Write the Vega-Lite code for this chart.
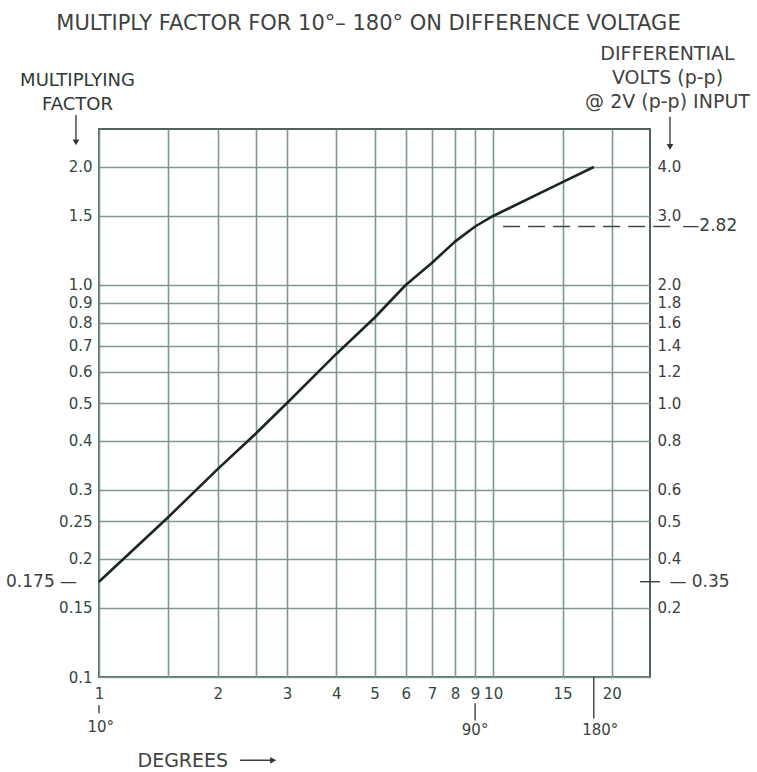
{
  "$schema": "https://vega.github.io/schema/vega-lite/v6.json",
  "width": 551,
  "height": 548,
  "autosize": {"type": "none"},
  "padding": {"left": 99, "top": 129, "right": 107, "bottom": 95},
  "background": "#ffffff",
  "config": {
    "font": "DejaVu Sans",
    "view": {"stroke": "#4f6458", "strokeWidth": 2},
    "axis": {
      "labelFont": "DejaVu Sans",
      "titleFont": "DejaVu Sans",
      "titleFontWeight": "normal",
      "domain": false,
      "ticks": false,
      "gridColor": "#7f9a8c",
      "gridWidth": 1.6,
      "gridOpacity": 1,
      "labelColor": "#34473d",
      "labelFontSize": 15,
      "labelOverlap": false,
      "labelFlush": false,
      "labelBound": false
    }
  },
  "title": {
    "text": "MULTIPLY FACTOR FOR 10°– 180° ON DIFFERENCE VOLTAGE",
    "anchor": "middle",
    "frame": "group",
    "fontSize": 21,
    "fontWeight": "normal",
    "color": "#3e4240",
    "baseline": "alphabetic",
    "offset": 14,
    "dx": -6,
    "dy": 21
  },
  "datasets": {
    "curve": [
      {"reading": 1, "factor": 0.175},
      {"reading": 1.5, "factor": 0.256},
      {"reading": 2, "factor": 0.339},
      {"reading": 2.5, "factor": 0.418},
      {"reading": 3, "factor": 0.5},
      {"reading": 4, "factor": 0.667},
      {"reading": 5, "factor": 0.825},
      {"reading": 6, "factor": 1.0},
      {"reading": 7, "factor": 1.14},
      {"reading": 8, "factor": 1.29},
      {"reading": 9, "factor": 1.41},
      {"reading": 10, "factor": 1.5},
      {"reading": 15, "factor": 1.83},
      {"reading": 18, "factor": 2.0}
    ],
    "ref_282": [
      {"reading": 10.6, "reading_end": 28.5, "factor": 1.41}
    ],
    "notes_after": [
      {"label": "—2.82", "reading": 30.2, "factor": 1.41},
      {"label": "—   0.35", "reading": 28, "factor": 0.175}
    ],
    "notes_before": [
      {"label": "0.175 —", "reading": 0.88, "factor": 0.175}
    ],
    "degree_marks": [
      {"label": "10°", "reading": 1.01, "factor": 0.0744},
      {"label": "90°", "reading": 9, "factor": 0.0731},
      {"label": "180°", "reading": 18.7, "factor": 0.0731}
    ],
    "vertical_leaders": [
      {"reading": 1, "factor": 0.0847, "factor_end": 0.0808},
      {"reading": 9, "factor": 0.0857, "factor_end": 0.0775},
      {"reading": 18, "factor": 0.1, "factor_end": 0.0784},
      {"reading": 0.874, "factor": 2.716, "factor_end": 2.3},
      {"reading": 28.1, "factor": 2.685, "factor_end": 2.23}
    ],
    "horizontal_leaders": [
      {"reading": 23.6, "reading_end": 26.5, "factor": 0.175},
      {"reading": 2.28, "reading_end": 2.8, "factor": 0.0613}
    ],
    "arrow_heads": [
      {"reading": 0.874, "factor": 2.31, "direction": "down"},
      {"reading": 28.1, "factor": 2.25, "direction": "down"},
      {"reading": 2.765, "factor": 0.0613, "direction": "right"}
    ]
  },
  "layer": [
    {
      "data": {"name": "curve"},
      "mark": {"type": "line", "stroke": "#1c2621", "strokeWidth": 2.6, "strokeJoin": "round"},
      "encoding": {
        "x": {
          "field": "reading",
          "type": "quantitative",
          "scale": {"type": "log", "domain": [1, 25], "nice": false},
          "axis": {
            "values": [1, 1.5, 2, 2.5, 3, 4, 5, 6, 7, 8, 9, 10, 15, 20],
            "labelExpr": "datum.value == 1.5 || datum.value == 2.5 ? '' : format(datum.value, 'd')",
            "labelPadding": 9,
            "grid": true,
            "title": "DEGREES",
            "titleX": 38,
            "titleY": 83,
            "titleAlign": "left",
            "titleBaseline": "middle",
            "titleFontSize": 19,
            "titleColor": "#3e4240"
          }
        },
        "y": {
          "field": "factor",
          "type": "quantitative",
          "scale": {"type": "log", "domain": [0.1, 2.5], "nice": false},
          "axis": {
            "orient": "left",
            "values": [0.1, 0.15, 0.2, 0.25, 0.3, 0.4, 0.5, 0.6, 0.7, 0.8, 0.9, 1, 1.5, 2],
            "labelExpr": "datum.value >= 1 ? format(datum.value, '.1f') : format(datum.value, '~g')",
            "labelPadding": 7,
            "grid": true,
            "title": ["MULTIPLYING", "FACTOR"],
            "titleAngle": 0,
            "titleX": -22,
            "titleY": -44,
            "titleAlign": "center",
            "titleBaseline": "alphabetic",
            "titleLineHeight": 24,
            "titleFontSize": 18,
            "titleColor": "#2d3a33"
          }
        }
      }
    },
    {
      "data": {"name": "ref_282"},
      "mark": {"type": "rule", "stroke": "#3d4a43", "strokeWidth": 1.6, "strokeDash": [17, 8]},
      "encoding": {
        "x": {"field": "reading", "type": "quantitative", "scale": {"type": "log", "domain": [1, 25], "nice": false}},
        "x2": {"field": "reading_end"},
        "y": {
          "field": "factor",
          "type": "quantitative",
          "scale": {"type": "log", "domain": [0.1, 2.5], "nice": false},
          "axis": {
            "orient": "right",
            "values": [0.15, 0.2, 0.25, 0.3, 0.4, 0.5, 0.6, 0.7, 0.8, 0.9, 1, 1.5, 2],
            "labelExpr": "datum.value == 0.15 ? '0.2' : format(datum.value * 2, '.1f')",
            "labelPadding": 7,
            "labelColor": "#3b403e",
            "grid": false,
            "title": ["DIFFERENTIAL", "VOLTS (p-p)", "@  2V (p-p) INPUT"],
            "titleAngle": 0,
            "titleX": 17,
            "titleY": -70,
            "titleAlign": "center",
            "titleBaseline": "alphabetic",
            "titleLineHeight": 24,
            "titleFontSize": 19,
            "titleColor": "#3e4240"
          }
        }
      }
    },
    {
      "data": {"name": "notes_after"},
      "mark": {"type": "text", "align": "left", "baseline": "middle", "fontSize": 17, "color": "#3a3f3d"},
      "encoding": {
        "x": {"field": "reading", "type": "quantitative", "scale": {"type": "log", "domain": [1, 25], "nice": false}},
        "y": {"field": "factor", "type": "quantitative", "scale": {"type": "log", "domain": [0.1, 2.5], "nice": false}, "axis": null},
        "text": {"field": "label"}
      }
    },
    {
      "data": {"name": "notes_before"},
      "mark": {"type": "text", "align": "right", "baseline": "middle", "fontSize": 17, "color": "#3a3f3d"},
      "encoding": {
        "x": {"field": "reading", "type": "quantitative", "scale": {"type": "log", "domain": [1, 25], "nice": false}},
        "y": {"field": "factor", "type": "quantitative", "scale": {"type": "log", "domain": [0.1, 2.5], "nice": false}, "axis": null},
        "text": {"field": "label"}
      }
    },
    {
      "data": {"name": "degree_marks"},
      "mark": {"type": "text", "align": "center", "baseline": "middle", "fontSize": 15, "color": "#3a3f3d"},
      "encoding": {
        "x": {"field": "reading", "type": "quantitative", "scale": {"type": "log", "domain": [1, 25], "nice": false}},
        "y": {"field": "factor", "type": "quantitative", "scale": {"type": "log", "domain": [0.1, 2.5], "nice": false}, "axis": null},
        "text": {"field": "label"}
      }
    },
    {
      "data": {"name": "vertical_leaders"},
      "mark": {"type": "rule", "stroke": "#3a3f3d", "strokeWidth": 1.4},
      "encoding": {
        "x": {"field": "reading", "type": "quantitative", "scale": {"type": "log", "domain": [1, 25], "nice": false}},
        "y": {"field": "factor", "type": "quantitative", "scale": {"type": "log", "domain": [0.1, 2.5], "nice": false}, "axis": null},
        "y2": {"field": "factor_end"}
      }
    },
    {
      "data": {"name": "horizontal_leaders"},
      "mark": {"type": "rule", "stroke": "#3a3f3d", "strokeWidth": 1.4},
      "encoding": {
        "x": {"field": "reading", "type": "quantitative", "scale": {"type": "log", "domain": [1, 25], "nice": false}},
        "x2": {"field": "reading_end"},
        "y": {"field": "factor", "type": "quantitative", "scale": {"type": "log", "domain": [0.1, 2.5], "nice": false}, "axis": null}
      }
    },
    {
      "data": {"name": "arrow_heads"},
      "mark": {"type": "point", "filled": true, "size": 45, "color": "#2f3a34", "opacity": 1},
      "encoding": {
        "x": {"field": "reading", "type": "quantitative", "scale": {"type": "log", "domain": [1, 25], "nice": false}},
        "y": {"field": "factor", "type": "quantitative", "scale": {"type": "log", "domain": [0.1, 2.5], "nice": false}, "axis": null},
        "shape": {
          "field": "direction",
          "type": "nominal",
          "scale": {"domain": ["down", "right"], "range": ["triangle-down", "triangle-right"]},
          "legend": null
        }
      }
    }
  ],
  "resolve": {"axis": {"y": "independent"}}
}
